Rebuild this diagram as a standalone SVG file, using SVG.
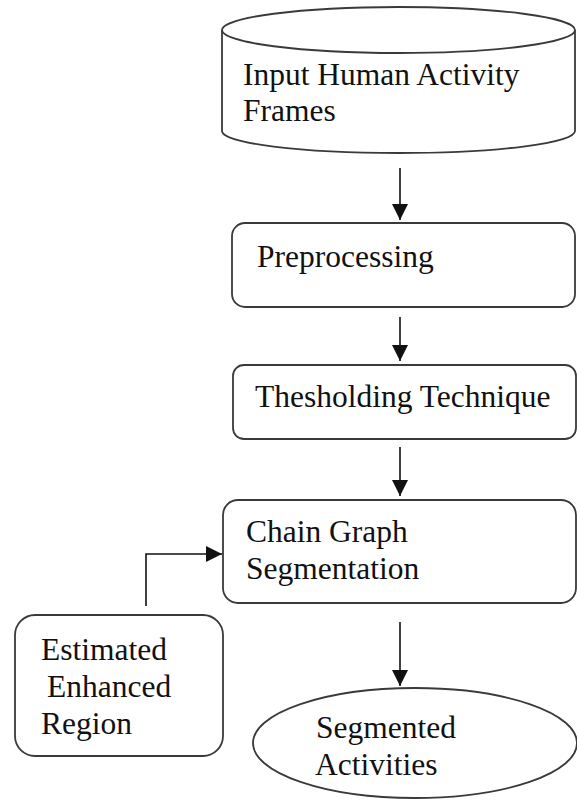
<svg xmlns="http://www.w3.org/2000/svg" width="577" height="800" viewBox="0 0 577 800">
  <style>
    .shape { fill: #fff; stroke: #3a3a3a; stroke-width: 1.8; }
    .label { font-family: "Liberation Serif", "Times New Roman", serif; font-size: 31.5px; fill: #111; }
    .conn { fill: none; stroke: #111; stroke-width: 1.6; }
  </style>
  <defs>
    <marker id="arrow" viewBox="0 0 16 16" refX="16" refY="8" markerWidth="16" markerHeight="16" markerUnits="userSpaceOnUse" orient="auto">
      <path d="M0,0 L16,8 L0,16 Z" fill="#111"/>
    </marker>
  </defs>
  <rect width="577" height="800" fill="#fff"/>

  <!-- data store: input frames -->
  <g id="input-frames">
    <path class="shape" d="M222,30 L222,131 A176.5,22 0 0 0 575,131 L575,30"/>
    <ellipse class="shape" cx="398.5" cy="30" rx="176.5" ry="23"/>
    <text class="label" x="243" y="85">Input Human Activity</text>
    <text class="label" x="243" y="121">Frames</text>
  </g>

  <g id="preprocessing">
    <rect class="shape" x="232" y="223" width="343" height="84" rx="13"/>
    <text class="label" x="257" y="267">Preprocessing</text>
  </g>

  <g id="thresholding">
    <rect class="shape" x="233" y="365" width="343" height="74" rx="11"/>
    <text class="label" x="255" y="407">Thesholding Technique</text>
  </g>

  <g id="chain-graph">
    <rect class="shape" x="223" y="500" width="353" height="103" rx="15"/>
    <text class="label" x="246" y="542">Chain Graph</text>
    <text class="label" x="246" y="579">Segmentation</text>
  </g>

  <g id="enhanced-region">
    <rect class="shape" x="15" y="615" width="208" height="141" rx="20"/>
    <text class="label" x="41" y="660">Estimated</text>
    <text class="label" x="47" y="697">Enhanced</text>
    <text class="label" x="41" y="734">Region</text>
  </g>

  <g id="segmented-activities">
    <ellipse class="shape" cx="415" cy="743" rx="162" ry="55"/>
    <text class="label" x="316" y="738">Segmented</text>
    <text class="label" x="315" y="775">Activities</text>
  </g>

  <g id="connectors">
    <line class="conn" x1="400" y1="168" x2="400" y2="220" marker-end="url(#arrow)"/>
    <line class="conn" x1="400" y1="317" x2="400" y2="361" marker-end="url(#arrow)"/>
    <line class="conn" x1="400" y1="447" x2="400" y2="496" marker-end="url(#arrow)"/>
    <line class="conn" x1="400" y1="622" x2="400" y2="686" marker-end="url(#arrow)"/>
    <path class="conn" d="M146,606 L146,554 L222,554" marker-end="url(#arrow)"/>
  </g>
</svg>
